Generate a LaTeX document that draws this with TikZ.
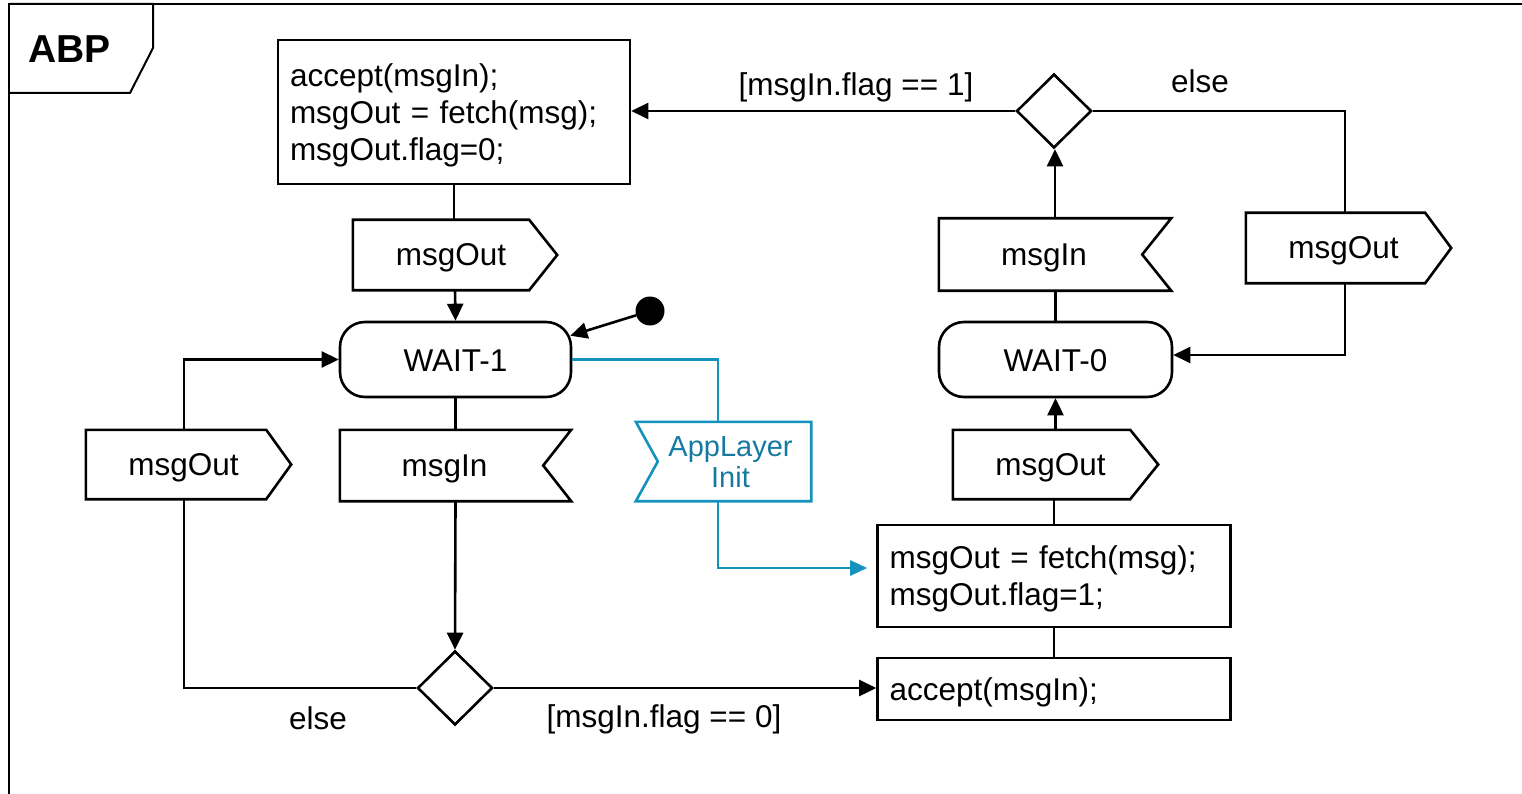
\documentclass[tikz,border=0pt]{standalone}
\usepackage{fontspec}
\setmainfont{Liberation Sans}
\usetikzlibrary{arrows.meta,shapes.geometric,calc}
\definecolor{appblue}{RGB}{20,146,190}
\definecolor{apptext}{RGB}{22,122,160}
\begin{document}
\begin{tikzpicture}[x=1pt,y=-1pt,
  every node/.style={font=\fontsize{31.5}{37}\selectfont, inner sep=0pt},
  ln/.style={line width=2.6pt, line join=miter},
  arr/.style={ln, -{Triangle[length=17pt,width=16pt]}},
  blueln/.style={line width=2.6pt, draw=appblue},
  bluearr/.style={blueln, -{Triangle[length=17pt,width=15pt]}},
  actbox/.style={draw, line width=2.6pt},
  boxtext/.style={yshift=-3pt, align=left, text width=#1},
  statebox/.style={draw, line width=2.6pt, rounded corners=25pt},
  shp/.style={draw=none},
  decision/.style={diamond, draw, line width=2.6pt, minimum width=75pt, minimum height=74pt},
  frameln/.style={line width=2pt}
]
\useasboundingbox (0,0) rectangle (1522,794);

% frame and tab
\draw[frameln] (9,794) -- (9,4) -- (1522,4);
\draw[frameln] (9,4) -- (153,4) -- (153,48) -- (130,93) -- (9,93);
\node[font=\fontsize{39}{44}\selectfont\bfseries] (abp) at (69.5,49) {ABP};

% action boxes
\node[actbox, minimum width=352pt, minimum height=144pt,
  label={[boxtext=328pt]center:accept(msgIn);\\msgOut = fetch(msg);\\msgOut.flag=0;}] (box1) at (454,112) {};
\node[actbox, minimum width=353pt, minimum height=102pt,
  label={[boxtext=329pt]center:msgOut = fetch(msg);\\msgOut.flag=1;}] (box3) at (1054,576) {};
\node[actbox, minimum width=353pt, minimum height=62pt,
  label={[boxtext=329pt]center:accept(msgIn);}] (box2) at (1054,689) {};

% states
\node[statebox, minimum width=231pt, minimum height=75pt,
  label={[yshift=-1.5pt]center:WAIT-1}] (w1) at (455.5,359.5) {};
\node[statebox, minimum width=233pt, minimum height=75pt,
  label={[yshift=-1.5pt]center:WAIT-0}] (w0) at (1055.5,359.5) {};

% initial node
\node[circle, fill=black, minimum size=29pt] (dot) at (650,311) {};

% send signals
\node[shp, minimum width=204pt, minimum height=70pt,
  label={[xshift=-4pt,yshift=-3pt]center:msgOut}] (m1) at (455,255) {};
\draw[ln] (m1.north west) -- ([xshift=-28pt]m1.north east) -- (m1.east)
  -- ([xshift=-28pt]m1.south east) -- (m1.south west) -- cycle;

\node[shp, minimum width=205pt, minimum height=69pt,
  label={[xshift=-5pt,yshift=-3pt]center:msgOut}] (m2) at (188.5,464.5) {};
\draw[ln] (m2.north west) -- ([xshift=-25pt]m2.north east) -- (m2.east)
  -- ([xshift=-25pt]m2.south east) -- (m2.south west) -- cycle;

\node[shp, minimum width=205pt, minimum height=69pt,
  label={[xshift=-5pt,yshift=-3pt]center:msgOut}] (m3) at (1055.5,464.5) {};
\draw[ln] (m3.north west) -- ([xshift=-28pt]m3.north east) -- (m3.east)
  -- ([xshift=-28pt]m3.south east) -- (m3.south west) -- cycle;

\node[shp, minimum width=205pt, minimum height=70pt,
  label={[xshift=-5pt,yshift=-3pt]center:msgOut}] (m4) at (1348.5,248) {};
\draw[ln] (m4.north west) -- ([xshift=-26pt]m4.north east) -- (m4.east)
  -- ([xshift=-26pt]m4.south east) -- (m4.south west) -- cycle;

% receive signals
\node[shp, minimum width=231pt, minimum height=71pt,
  label={[xshift=-11pt,yshift=-3pt]center:msgIn}] (r1) at (455.5,465.5) {};
\draw[ln] (r1.north west) -- (r1.north east) -- ([xshift=-28pt]r1.east)
  -- (r1.south east) -- (r1.south west) -- cycle;

\node[shp, minimum width=232pt, minimum height=72pt,
  label={[xshift=-11pt,yshift=-3pt]center:msgIn}] (r2) at (1055,254.5) {};
\draw[ln] (r2.north west) -- (r2.north east) -- ([xshift=-29pt]r2.east)
  -- (r2.south east) -- (r2.south west) -- cycle;

\node[shp, minimum width=175pt, minimum height=79pt,
  label={[xshift=7pt, yshift=-1pt, align=center, text=apptext, font=\fontsize{29}{31}\selectfont]center:AppLayer\\Init}] (al) at (723.5,461.5) {};
\draw[blueln] (al.north west) -- (al.north east) -- (al.south east)
  -- (al.south west) -- ([xshift=22pt]al.west) -- cycle;

% decisions
\node[decision] (d1) at (455,688) {};
\node[decision] (d2) at (1054,111) {};

% guard labels
\node (e1) at (318,718) {else};
\node (g0) at (664,719) {[msgIn.flag == 0]};
\node (g1) at (856,87) {[msgIn.flag == 1]};
\node (e2) at (1200,81) {else};

% connectors
\draw[ln] (box1.south) -- (box1.south |- m1.north);
\draw[arr] (m1.south) -- (w1.north);
\draw[arr] (dot) -- ([xshift=-2pt,yshift=-15pt]w1.north east);
\draw[ln] (w1.south) -- (r1.north);
\draw[arr] (r1.south) -- (d1.north);
\draw[ln] (d1.west) -| ([xshift=-4.5pt]m2.south);
\draw[arr] ([xshift=-4.5pt]m2.north) |- (w1.west);
\draw[arr] (d1.east) -- (d1.east -| box2.west);
\draw[ln] (box2.north) -- (box3.south);
\draw[ln] (box3.north) -- (box3.north |- m3.south);
\draw[arr] (m3.north) -- (m3.north |- w0.south);
\draw[ln] (w0.north) -- (w0.north |- r2.south);
\draw[arr] (r2.north) -- (r2.north |- d2.south);
\draw[arr] (d2.west) -- (d2.west -| box1.east);
\draw[ln] (d2.east) -| ([xshift=-3.5pt]m4.north);
\draw[arr] ([xshift=-3.5pt]m4.south) |- ([yshift=4.5pt]w0.east);

% blue connectors
\draw[blueln] (w1.east) -| ([xshift=-5.5pt]al.north);
\draw[bluearr] ([xshift=-5.5pt]al.south) |- ([xshift=-9pt,yshift=8pt]box3.west);
\end{tikzpicture}
\end{document}
